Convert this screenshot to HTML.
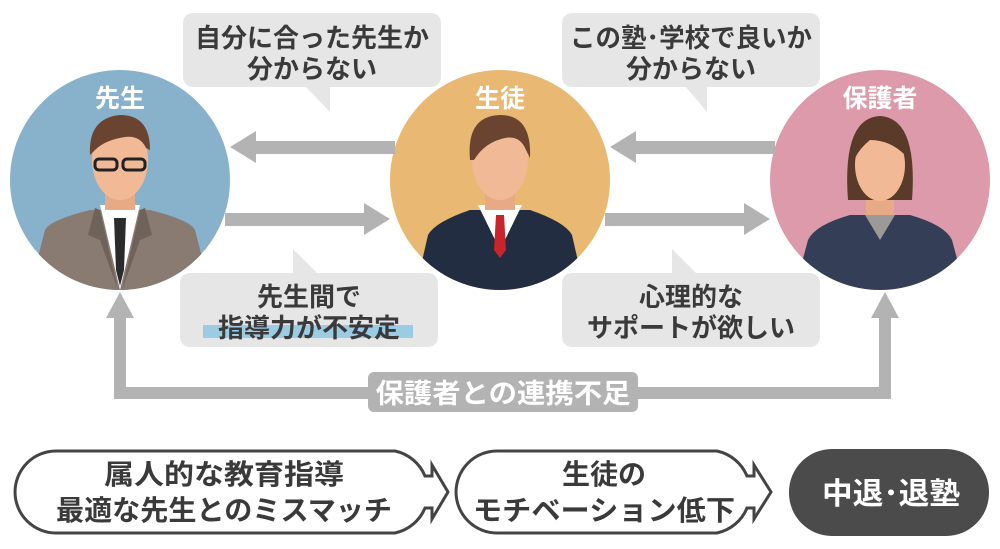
<!DOCTYPE html>
<html><head><meta charset="utf-8"><style>
html,body{margin:0;padding:0;background:#fff;}
svg{display:block;}
text{font-family:"Liberation Sans","Noto Sans CJK JP",sans-serif;font-weight:bold;}
</style></head><body>
<svg width="1000" height="549" viewBox="0 0 1000 549" xmlns="http://www.w3.org/2000/svg">
<g fill="#e6e6e6">
<rect x="183" y="13" width="258" height="74" rx="10"/>
<path d="M305 86 L330 112 L330 86 Z"/>
<rect x="562" y="13" width="258" height="74" rx="10"/>
<path d="M685 86 L707 112 L707 86 Z"/>
<rect x="180" y="273" width="258" height="74" rx="10"/>
<path d="M293 249 L293 274 L318 274 Z"/>
<rect x="562" y="273" width="258" height="74" rx="10"/>
<path d="M672 249 L672 274 L697 274 Z"/>
</g>
<rect x="203" y="325" width="210" height="13" fill="#9ccbe4"/>
<g fill="#3a3a3a" font-size="26" text-anchor="middle">
<text x="312" y="47">自分に合った先生か</text>
<text x="312" y="78">分からない</text>
<text x="691" y="47" textLength="242" lengthAdjust="spacingAndGlyphs">この塾･学校で良いか</text>
<text x="691" y="78">分からない</text>
<text x="309" y="306">先生間で</text>
<text x="309" y="337">指導力が不安定</text>
<text x="691" y="306">心理的な</text>
<text x="691" y="337">サポートが欲しい</text>
</g>
<defs>
<clipPath id="c1"><circle cx="120" cy="180" r="110"/></clipPath>
<clipPath id="c2"><circle cx="500" cy="180" r="110"/></clipPath>
<clipPath id="c3"><circle cx="880" cy="180" r="110"/></clipPath>
</defs>
<circle cx="120" cy="180" r="110" fill="#88b1cb"/>
<circle cx="500" cy="180" r="110" fill="#e9b872"/>
<circle cx="880" cy="180" r="110" fill="#dc9aaa"/>
<g clip-path="url(#c1)">
<path d="M36 265 L45 230 Q50 220 90 210 L150 210 Q190 220 195 230 L204 265 Q160 300 120 300 Q80 300 36 265Z" fill="#8a7b72"/>
<path d="M100 205 L120 290 L140 205 Z" fill="#fff"/>
<path d="M114 218 L126 218 L124 270 L120 286 L116 270Z" fill="#2b2b2b"/>
<path d="M95 208 L88 235 L100 240 L118 290 L100 210Z" fill="#6f625a"/>
<path d="M145 208 L152 235 L140 240 L122 290 L140 210Z" fill="#6f625a"/>
<rect x="105" y="185" width="30" height="25" fill="#e8a985"/>
<ellipse cx="120" cy="160" rx="28" ry="40" fill="#f2b996"/>
<path d="M90 155 Q88 118 120 115 Q150 115 150 150 L146 148 Q140 135 125 137 Q105 140 95 150 Z" fill="#6a4431"/>
<rect x="95" y="159" width="22" height="11" rx="4" fill="none" stroke="#222" stroke-width="3"/>
<rect x="123" y="159" width="22" height="11" rx="4" fill="none" stroke="#222" stroke-width="3"/>
</g>
<g clip-path="url(#c2)">
<path d="M420 270 L428 235 Q435 222 470 210 L530 210 Q565 222 572 235 L580 270 Q540 300 500 300 Q460 300 420 270Z" fill="#222d42"/>
<path d="M478 205 L500 250 L522 205 Z" fill="#fff"/>
<path d="M496 215 L504 215 L506 250 L500 258 L494 250Z" fill="#c8242c"/>
<rect x="485" y="185" width="30" height="25" fill="#e8a985"/>
<ellipse cx="500" cy="160" rx="28" ry="40" fill="#f2b996"/>
<path d="M470 160 Q466 116 500 115 Q532 115 530 158 L526 150 Q520 135 505 138 Q485 142 474 160 Z" fill="#6a4431"/>
</g>
<g clip-path="url(#c3)">
<path d="M800 270 L808 240 Q815 225 850 215 L910 215 Q945 225 952 240 L960 270 Q920 300 880 300 Q840 300 800 270Z" fill="#343f57"/>
<path d="M865 215 L880 240 L895 215 Z" fill="#9b9a96"/>
<rect x="866" y="185" width="28" height="30" fill="#e8a985"/>
<path d="M848 200 Q842 118 880 116 Q918 118 912 200 Z" fill="#5a3a28"/>
<ellipse cx="880" cy="165" rx="25" ry="36" fill="#f2b996"/>
<path d="M855 158 Q855 125 880 125 Q905 125 905 155 Q890 140 870 140 Q860 148 855 158Z" fill="#5a3a28"/>
</g>
<g fill="#fff" font-size="25" text-anchor="middle">
<text x="120" y="107">先生</text>
<text x="500" y="107">生徒</text>
<text x="880" y="107">保護者</text>
</g>
<g fill="#b3b3b3">
<rect x="255" y="141" width="140" height="13"/><path d="M230 147 L256 131 L256 163Z"/>
<rect x="225" y="213" width="140" height="13"/><path d="M390 219 L364 203 L364 235Z"/>
<rect x="635" y="141" width="140" height="13"/><path d="M610 147 L636 131 L636 163Z"/>
<rect x="605" y="213" width="140" height="13"/><path d="M770 219 L744 203 L744 235Z"/>
<rect x="114" y="315" width="12" height="84"/>
<rect x="114" y="387" width="777" height="12"/>
<rect x="879" y="315" width="12" height="84"/>
<path d="M120 292 L106 318 L134 318Z"/>
<path d="M885 292 L871 318 L899 318Z"/>
<rect x="368" y="372" width="270" height="40" rx="6"/>
</g>
<text x="503" y="403" fill="#fff" font-size="27" text-anchor="middle" textLength="255" lengthAdjust="spacingAndGlyphs">保護者との連携不足</text>
<g fill="#fff" stroke="#444" stroke-width="3">
<path d="M56 451 H395 A42 42 0 0 1 425 476 H432 V465 L448 492 L432 519 V508 H425 A42 42 0 0 1 395 533 H56 A41 41 0 0 1 56 451 Z"/>
<path d="M497 451 H717 A42 42 0 0 1 747 476 H754 V465 L771 492 L754 519 V508 H747 A42 42 0 0 1 717 533 H497 A41 41 0 0 1 497 451 Z"/>
</g>
<rect x="789" y="449" width="200" height="87" rx="43" fill="#4b4b4b"/>
<g fill="#3a3a3a" font-size="28" text-anchor="middle">
<text x="224" y="484" textLength="240" lengthAdjust="spacingAndGlyphs">属人的な教育指導</text>
<text x="224" y="520" textLength="336" lengthAdjust="spacingAndGlyphs">最適な先生とのミスマッチ</text>
<text x="604" y="484">生徒の</text>
<text x="604" y="520" textLength="262" lengthAdjust="spacingAndGlyphs">モチベーション低下</text>
</g>
<text x="891" y="504" fill="#fff" font-size="30" text-anchor="middle" textLength="138" lengthAdjust="spacingAndGlyphs">中退･退塾</text>
</svg>
</body></html>
